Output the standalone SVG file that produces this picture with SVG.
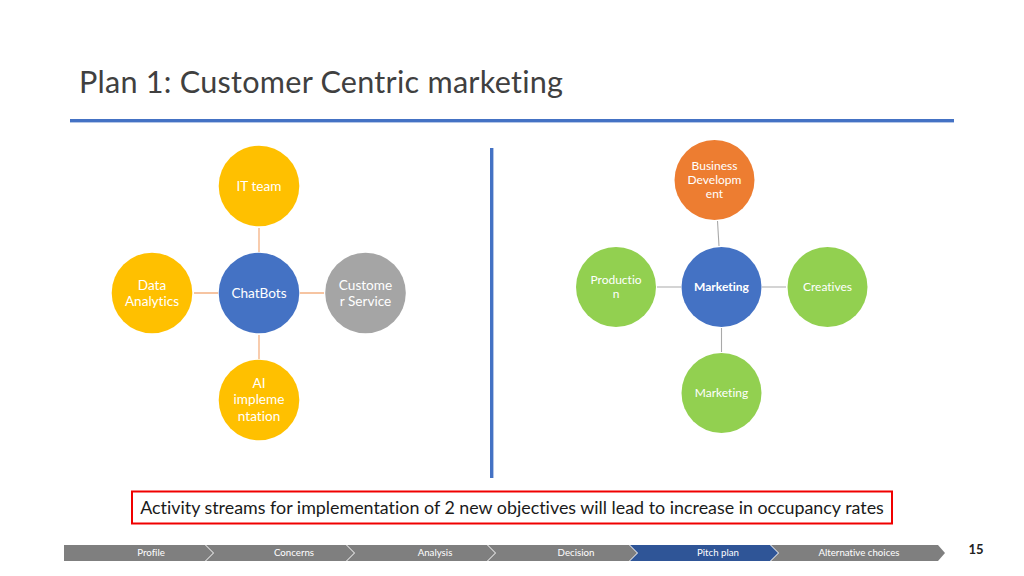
<svg xmlns="http://www.w3.org/2000/svg" width="1024" height="576" viewBox="0 0 1024 576">
<style>
text{font-family:Lato,"Open Sans","Liberation Sans",sans-serif;text-anchor:middle;font-variant-ligatures:none}
.n{fill:#fff;font-size:13.6px}
.s{fill:#fff;font-size:12px}
.b{fill:#fff;font-size:9.7px}
.c1{stroke:#f4b183;stroke-width:1.3;fill:none}
.c2{stroke:#a9a9a9;stroke-width:1.1;fill:none}
.o{fill:#ffc000}.bl{fill:#4472c4}.g{fill:#92d050}
</style>
<rect width="1024" height="576" fill="#fff"/>
<text id="title" x="79" y="93" style="text-anchor:start;font-size:30.6px;letter-spacing:.25px;fill:#404040">Plan 1: Customer Centric marketing</text>
<rect x="70" y="119" width="884" height="3.4" fill="#4472c4"/>
<rect x="490" y="148" width="3.4" height="330" fill="#4472c4"/>
<g id="connectors">
<path class="c1" d="M259 228V252M259 335V359M194 293H218M300 293H324"/>
<path class="c2" d="M717.500 221L719 246M721.500 328V352M657 287H681M762 287H786"/>
</g>
<g id="n-it"><circle class="o" cx="259" cy="186" r="40.300"/><text class="n" x="259" y="191">IT team</text></g>
<g id="n-data"><circle class="o" cx="152" cy="293" r="40.300"/><text class="n" x="152" y="289.500">Data</text><text class="n" x="152" y="306">Analytics</text></g>
<g id="n-chat"><circle class="bl" cx="259" cy="293" r="40.300"/><text class="n" x="259" y="297.500">ChatBots</text></g>
<g id="n-cs"><circle fill="#a5a5a5" cx="365.500" cy="293" r="40.300"/><text class="n" x="365.500" y="289.500">Custome</text><text class="n" x="365.500" y="306">r Service</text></g>
<g id="n-ai"><circle class="o" cx="259" cy="400" r="40.300"/><text class="n" x="259" y="388">AI</text><text class="n" x="259" y="404">impleme</text><text class="n" x="259" y="420.500">ntation</text></g>
<g id="n-bd"><circle fill="#ed7d31" cx="714.500" cy="180" r="40"/><text class="s" x="714.500" y="170">Business</text><text class="s" x="714.500" y="184">Developm</text><text class="s" x="714.500" y="198">ent</text></g>
<g id="n-prod"><circle class="g" cx="616" cy="287" r="40"/><text class="s" x="616" y="284">Productio</text><text class="s" x="616" y="298">n</text></g>
<g id="n-mkt"><circle class="bl" cx="721.500" cy="287" r="40"/><text class="s" x="721.500" y="291" font-weight="700">Marketing</text></g>
<g id="n-cre"><circle class="g" cx="827.500" cy="287" r="40"/><text class="s" x="827.500" y="291">Creatives</text></g>
<g id="n-mkt2"><circle class="g" cx="721.500" cy="393" r="40"/><text class="s" x="721.500" y="397">Marketing</text></g>
<g id="callout"><rect x="132" y="491.500" width="760" height="32" fill="#fff" stroke="#f00000" stroke-width="2"/><text x="512" y="513.500" style="font-size:17.880px;fill:#1a1a1a">Activity streams for implementation of 2 new objectives will lead to increase in occupancy rates</text></g>
<g id="nav">
<path fill="#7f7f7f" d="M64 545H205L213 553L205 561H64Z"/>
<path fill="#7f7f7f" d="M206 545H346L354 553L346 561H206L214 553Z"/>
<path fill="#7f7f7f" d="M347 545H487L495 553L487 561H347L355 553Z"/>
<path fill="#7f7f7f" d="M488 545H629L637 553L629 561H488L496 553Z"/>
<path fill="#2f5597" d="M630 545H770L778 553L770 561H630L638 553Z"/>
<path fill="#7f7f7f" d="M771 545H938L945 553L938 561H771L779 553Z"/>
<text class="b" x="151" y="556">Profile</text>
<text class="b" x="294" y="556">Concerns</text>
<text class="b" x="435" y="556">Analysis</text>
<text class="b" x="576" y="556">Decision</text>
<text class="b" x="718" y="556">Pitch plan</text>
<text class="b" x="859" y="556">Alternative choices</text>
</g>
<text id="page" x="976" y="554" style="font-size:13px;font-weight:700;fill:#222">15</text>
</svg>
